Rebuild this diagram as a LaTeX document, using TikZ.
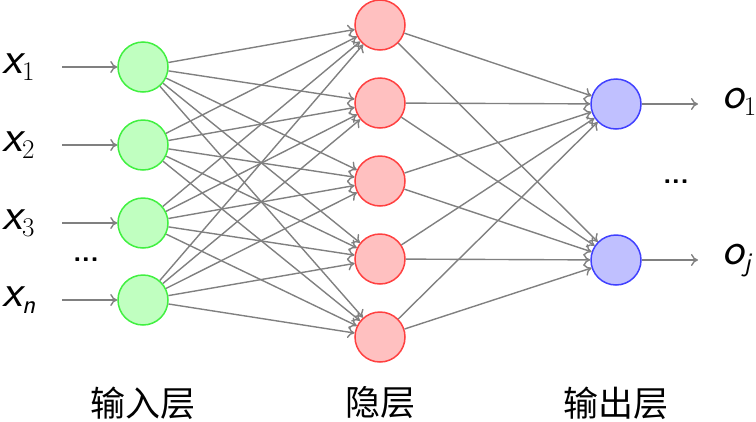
\documentclass[tikz,border=0pt]{standalone}
\usepackage{fontspec}
\newfontfamily\cjk{Noto Sans CJK SC}
\usetikzlibrary{arrows.meta}
\definecolor{ingreen}{RGB}{192,255,192}
\definecolor{ingreenD}{RGB}{64,240,64}
\definecolor{hidred}{RGB}{255,192,192}
\definecolor{hidredD}{RGB}{255,64,64}
\definecolor{outblue}{RGB}{192,192,255}
\definecolor{outblueD}{RGB}{64,64,255}
\definecolor{edgegray}{RGB}{128,128,128}
\newcommand{\mysub}[1]{\raisebox{-7pt}{\fontsize{27}{30}\selectfont #1}}
\begin{document}
\begin{tikzpicture}[x=1pt,y=-1pt,
  neuron/.style={circle,minimum size=50pt,inner sep=0pt,line width=1.5pt},
  innode/.style={neuron,draw=ingreenD,fill=ingreen},
  hidnode/.style={neuron,draw=hidredD,fill=hidred},
  outnode/.style={neuron,draw=outblueD,fill=outblue},
  conn/.style={draw=edgegray,line width=1.4pt,-{To[length=7pt,width=12pt]}},
  vlabel/.style={font=\sffamily\itshape\fontsize{46}{50}\selectfont,inner sep=0pt},
  dotslabel/.style={font=\sffamily\bfseries\fontsize{28}{30}\selectfont,inner sep=0pt},
  layerlabel/.style={font=\cjk\fontsize{35}{38}\selectfont,inner sep=0pt}]
\useasboundingbox (0,0) rectangle (756,421);
% input layer
\node[innode] (i1) at (143,67) {};
\node[innode] (i2) at (143,145) {};
\node[innode] (i3) at (143,223) {};
\node[innode] (i4) at (143,300) {};
% hidden layer
\node[hidnode] (h1) at (380,25) {};
\node[hidnode] (h2) at (380,103) {};
\node[hidnode] (h3) at (380,181) {};
\node[hidnode] (h4) at (380,259) {};
\node[hidnode] (h5) at (380,337) {};
% output layer
\node[outnode] (o1) at (616,104) {};
\node[outnode] (o2) at (616,260) {};
% input labels
\node[vlabel,anchor=base west] (lx1) at (2,73) {x\mysub{\rmfamily\upshape 1}};
\node[vlabel,anchor=base west] (lx2) at (2,151) {x\mysub{\rmfamily\upshape 2}};
\node[vlabel,anchor=base west] (lx3) at (2,229) {x\mysub{\rmfamily\upshape 3}};
\node[vlabel,anchor=base west] (lx4) at (2,306) {x\mysub{n}};
\node[dotslabel] (ldots) at (86,260) {...};
\coordinate (a1) at (62,67);
\coordinate (a2) at (62,145);
\coordinate (a3) at (62,223);
\coordinate (a4) at (62,300);
\foreach \k in {1,...,4} \draw[conn] (a\k) -- (i\k);
% output labels
\coordinate (b1) at (698,104);
\coordinate (b2) at (698,260);
\draw[conn] (o1) -- (b1);
\draw[conn] (o2) -- (b2);
\node[vlabel,anchor=base west] (lo1) at (722,108) {o\mysub{\rmfamily\upshape 1}};
\node[vlabel,anchor=base west] (lo2) at (722,264) {o\mysub{j}};
\node[dotslabel] (odots) at (676,182) {...};
% connections
\foreach \a in {1,...,4} \foreach \b in {1,...,5} \draw[conn] (i\a) -- (h\b);
\foreach \a in {1,...,5} \foreach \b in {1,2} \draw[conn] (h\a) -- (o\b);
% layer labels
\node[layerlabel] (L1) at (143,403) {输入层};
\node[layerlabel] (L2) at (380,403) {隐层};
\node[layerlabel] (L3) at (616,403) {输出层};
\end{tikzpicture}
\end{document}
